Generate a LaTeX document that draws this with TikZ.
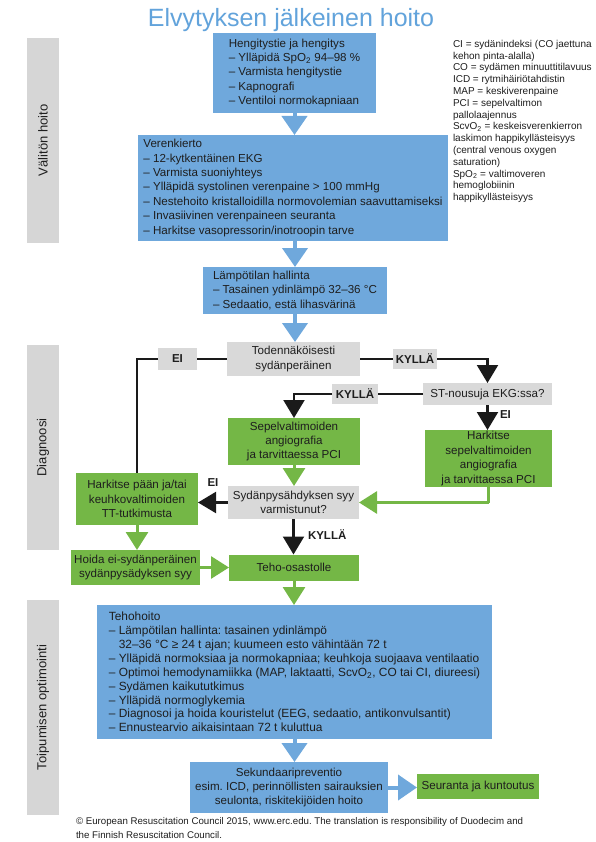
\documentclass[tikz,border=0pt]{standalone}
\usepackage{fontspec}
\setmainfont{Liberation Sans}
\usetikzlibrary{arrows.meta}
\definecolor{bblue}{HTML}{6FA8DC}
\definecolor{tblue}{HTML}{62A3DB}
\definecolor{bgreen}{HTML}{74B746}
\definecolor{lgray}{HTML}{D9D9D9}
\definecolor{sgray}{HTML}{D6D6D6}
\definecolor{ink}{HTML}{1E1E1E}
\definecolor{kcol}{HTML}{1A1A1A}
\newcommand\ersmain{\fontsize{11.6}{14.4}\selectfont}
\newcommand\erssmall{\fontsize{11.9}{13.9}\selectfont}
\newcommand\erslbl{\bfseries\fontsize{11.5}{13}\selectfont}
\frenchspacing
\begin{document}
\frenchspacing
\begin{tikzpicture}[x=1pt,y=-1pt,
  every node/.style={inner sep=0pt, outer sep=0pt, text=ink},
  bluebox/.style={fill=bblue, align=left, font=\ersmain},
  greenbox/.style={fill=bgreen, align=center, font=\ersmain},
  graybox/.style={fill=lgray, align=center, font=\ersmain},
  lbl/.style={fill=lgray, font=\erslbl},
  plainlbl/.style={font=\erslbl},
  side/.style={fill=sgray, rotate=90, minimum height=32pt, font=\fontsize{13}{15}\selectfont},
  barrow/.style={draw=bblue, line width=4pt, -{Triangle[width=25pt,length=19pt]}},
  garrow/.style={draw=bgreen, line width=3pt, -{Triangle[width=22pt,length=18pt]}},
  gline/.style={draw=bgreen, line width=2.5pt},
  karrow/.style={draw=kcol, line width=2.2pt, -{Triangle[width=21pt,length=18pt]}},
  kl/.style={draw=kcol, line width=2pt}
]
\useasboundingbox (0,0) rectangle (595,842);

% title
\node[anchor=base, font=\fontsize{25}{30}\selectfont, text=tblue] (title) at (291,27) {Elvytyksen jälkeinen hoito};

% side bars
\node[side, minimum width=205pt] (bar1) at (43,140.5) {Välitön hoito};
\node[side, minimum width=205pt] (bar2) at (43,447.5) {Diagnoosi};
\node[side, minimum width=215pt] (bar3) at (43,707.5) {Toipumisen optimointi};

% legend
\node[anchor=north west, align=left, font=\fontsize{10}{11.8}\selectfont] (legend) at (453,40) {CI = sydänindeksi (CO jaettuna\\
kehon pinta-alalla)\\
CO = sydämen minuuttitilavuus\\
ICD = rytmihäiriötahdistin\\
MAP = keskiverenpaine\\
PCI = sepelvaltimon\\
pallolaajennus\\
ScvO\textsubscript{2} = keskeisverenkierron\\
laskimon happikyllästeisyys\\
(central venous oxygen\\
saturation)\\
SpO\textsubscript{2} = valtimoveren\\
hemoglobiinin\\
happikyllästeisyys};

% immediate care
\node[bluebox, minimum width=163pt, minimum height=80pt] (air) at (294.5,73) {Hengitystie ja hengitys\\
– Ylläpidä SpO\textsubscript{2} 94–98 \%\\
– Varmista hengitystie\\
– Kapnografi\\
– Ventiloi normokapniaan};
\node[bluebox, minimum width=310pt, minimum height=106pt] (circ) at (293,188) {Verenkierto\\
– 12-kytkentäinen EKG\\
– Varmista suoniyhteys\\
– Ylläpidä systolinen verenpaine > 100 mmHg\\
– Nestehoito kristalloidilla normovolemian saavuttamiseksi\\
– Invasiivinen verenpaineen seuranta\\
– Harkitse vasopressorin/inotroopin tarve};
\node[bluebox, minimum width=184pt, minimum height=47pt] (temp) at (295,290.5) {Lämpötilan hallinta\\
– Tasainen ydinlämpö 32–36 °C\\
– Sedaatio, estä lihasvärinä};

% diagnosis
\node[graybox, minimum width=133pt, minimum height=34pt] (prob) at (293.5,359) {Todennäköisesti\\sydänperäinen};
\node[lbl, minimum width=39pt, minimum height=22pt] (ei1) at (177.5,359) {EI};
\node[lbl, minimum width=44pt, minimum height=20pt] (kyl1) at (415,359) {KYLLÄ};
\node[graybox, minimum width=129pt, minimum height=22pt] (st) at (487.5,394) {ST-nousuja EKG:ssa?};
\node[lbl, minimum width=46pt, minimum height=20pt] (kyl2) at (355,394) {KYLLÄ};
\node[greenbox, minimum width=132pt, minimum height=47pt] (sep) at (294,441.5) {Sepelvaltimoiden\\angiografia\\ja tarvittaessa PCI};
\node[greenbox, minimum width=127pt, minimum height=57pt] (hark) at (488.5,458.5) {Harkitse\\sepelvaltimoiden\\angiografia\\ja tarvittaessa PCI};
\node[graybox, minimum width=131pt, minimum height=33pt] (syd) at (293.5,502.5) {Sydänpysähdyksen syy\\varmistunut?};
\node[greenbox, minimum width=122pt, minimum height=52pt] (head) at (137,499) {Harkitse pään ja/tai\\keuhkovaltimoiden\\TT-tutkimusta};
\node[greenbox, minimum width=129pt, minimum height=35pt] (hoida) at (135.5,567.5) {Hoida ei-sydänperäinen\\sydänpysädyksen syy};
\node[greenbox, minimum width=130pt, minimum height=26pt] (teho) at (294,567.5) {Teho-osastolle};

% recovery
\node[bluebox, font=\erssmall, minimum width=395pt, minimum height=134pt] (icu) at (294.5,672) {Tehohoito\\
– Lämpötilan hallinta: tasainen ydinlämpö\\
\phantom{– }32–36 °C ≥ 24 t ajan; kuumeen esto vähintään 72 t\\
– Ylläpidä normoksiaa ja normokapniaa; keuhkoja suojaava ventilaatio\\
– Optimoi hemodynamiikka (MAP, laktaatti, ScvO\textsubscript{2}, CO tai CI, diureesi)\\
– Sydämen kaikututkimus\\
– Ylläpidä normoglykemia\\
– Diagnosoi ja hoida kouristelut (EEG, sedaatio, antikonvulsantit)\\
– Ennustearvio aikaisintaan 72 t kuluttua};
\node[bluebox, align=center, minimum width=198pt, minimum height=51pt] (sek) at (289,787.5) {Sekundaaripreventio\\esim. ICD, perinnöllisten sairauksien\\seulonta, riskitekijöiden hoito};
\node[greenbox, minimum width=122pt, minimum height=25pt] (seur) at (478,786) {Seuranta ja kuntoutus};

% footer
\node[anchor=base west, font=\fontsize{9.7}{11}\selectfont, text=ink] (foot1) at (76,824) {© European Resuscitation Council 2015, www.erc.edu. The translation is responsibility of Duodecim and};
\node[anchor=base west, font=\fontsize{9.7}{11}\selectfont, text=ink] (foot2) at (76,838) {the Finnish Resuscitation Council.};

% connectors: immediate care
\draw[barrow] (air.south) -- (air.south |- circ.north);
\draw[barrow] (temp.north |- circ.south) -- (temp.north);
\draw[barrow] (temp.south) -- (temp.south |- prob.north);

% diagnosis connectors
\draw[kl] (prob.west) -- (ei1.east);
\draw[kl] (ei1.west) -- (ei1.west -| head.north) -- (head.north);
\draw[kl] (prob.east) -- (kyl1.west);
\draw[karrow] (kyl1.east) -- (kyl1.east -| st.north) -- (st.north);
\draw[kl] (st.west) -- (kyl2.east);
\draw[karrow] (kyl2.west) -- (kyl2.west -| sep.north) -- (sep.north);
\draw[karrow] (st.south) -- (st.south |- hark.north);
\node[plainlbl, anchor=west] (ei2) at (500,415) {EI};
\draw[garrow] (sep.south) -- (sep.south |- syd.north);
\draw[gline] (hark.south) -- (hark.south |- syd.east);
\draw[garrow] (hark.south |- syd.east) -- (syd.east);
\draw[karrow] (syd.west) -- (syd.west -| head.east);
\node[plainlbl] (ei3) at (213,483) {EI};
\draw[karrow] (syd.south) -- (syd.south |- teho.north);
\node[plainlbl, anchor=west] (kyl3) at (308,535) {KYLLÄ};
\draw[garrow] (head.south) -- (head.south |- hoida.north);
\draw[garrow] (hoida.east) -- (hoida.east -| teho.west);
\draw[garrow] (teho.south) -- (teho.south |- icu.north);

% recovery connectors
\draw[barrow] (icu.south) -- (icu.south |- sek.north);
\draw[barrow] (sek.east) -- (sek.east -| seur.west);
\end{tikzpicture}
\end{document}
